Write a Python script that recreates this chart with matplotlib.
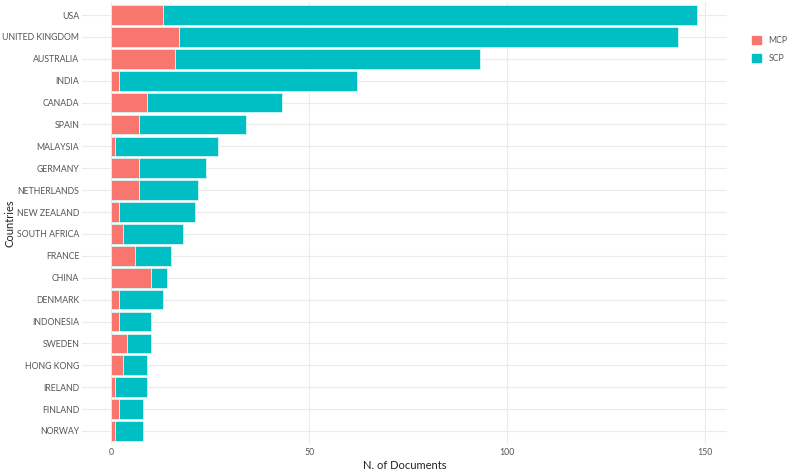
import matplotlib.pyplot as plt
from matplotlib.patches import Patch
import numpy as np

countries = ['USA', 'UNITED KINGDOM', 'AUSTRALIA', 'INDIA', 'CANADA', 'SPAIN',
             'MALAYSIA', 'GERMANY', 'NETHERLANDS', 'NEW ZEALAND', 'SOUTH AFRICA',
             'FRANCE', 'CHINA', 'DENMARK', 'INDONESIA', 'SWEDEN', 'HONG KONG',
             'IRELAND', 'FINLAND', 'NORWAY']
total = [148, 143, 93, 62, 43, 34, 27, 24, 22, 21, 18, 15, 14, 13, 10, 10, 9, 9, 8, 8]
mcp = [13, 17, 16, 2, 9, 7, 1, 7, 7, 2, 3, 6, 10, 2, 2, 4, 3, 1, 2, 1]
scp = [t - m for t, m in zip(total, mcp)]

plt.rcParams['font.family'] = ['Lato', 'DejaVu Sans']

fig = plt.figure(figsize=(7.89, 4.75), dpi=100)
ax = fig.add_axes([0.104, 0.065, 0.817, 0.931])

y = np.arange(len(countries))
c_mcp = '#F8766D'
c_scp = '#00BFC4'
ax.barh(y, mcp, height=0.9, color=c_mcp, edgecolor='#d8f4f5', linewidth=0.6, zorder=3)
ax.barh(y, scp, left=mcp, height=0.9, color=c_scp, edgecolor='#d8f4f5', linewidth=0.6, zorder=3)

ax.set_ylim(len(countries) - 0.4, -0.6)
ax.set_xlim(-7.4, 155.4)
ax.set_yticks(y)
ax.set_yticklabels(countries)
ax.set_xticks([0, 50, 100, 150])

for s in ax.spines.values():
    s.set_visible(False)
ax.grid(True, color='#ebebeb', linewidth=0.8, zorder=0)
ax.tick_params(length=0, labelsize=6.3, labelcolor='#555555', pad=2)
ax.tick_params(axis='x', pad=3)

ax.set_xlabel('N. of Documents', fontsize=8, color='#222222', labelpad=2)
ax.set_ylabel('Countries', fontsize=8, color='#222222')
ax.yaxis.set_label_coords(-0.104, 0.5)

handles = [Patch(color=c_mcp, label='MCP'), Patch(color=c_scp, label='SCP')]
fig.legend(handles=handles, loc='upper left', bbox_to_anchor=(0.943, 0.94),
           frameon=False, fontsize=6.3, handlelength=1.0, handleheight=1.0,
           handletextpad=0.9, labelspacing=1.0, labelcolor='#555555')

fig.savefig('out.png', dpi=100)
